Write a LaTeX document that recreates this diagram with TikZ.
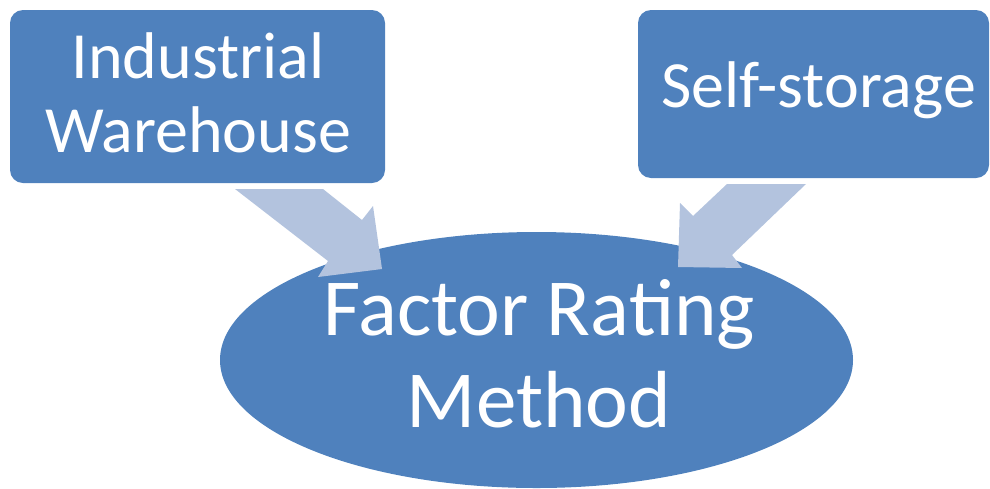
\documentclass[tikz,border=0pt]{standalone}
\usepackage{fontspec}
\setmainfont{Carlito}
\usetikzlibrary{shapes.geometric}
\definecolor{boxblue}{HTML}{4F81BD}
\definecolor{arrowblue}{RGB}{179,195,222}
\begin{document}
\begin{tikzpicture}[x=1pt,y=-1pt,
  box/.style={fill=boxblue,draw=none,rounded corners=13pt,inner sep=0pt},
  oval/.style={ellipse,fill=boxblue,draw=none,inner sep=0pt},
  txt/.style={text=white,align=center,inner sep=0pt},
  blockarrow/.style={fill=arrowblue,draw=none}]
\useasboundingbox (0,0) rectangle (990,488);
% ellipse
\node[oval,minimum width=633pt,minimum height=256pt] (frm) at (536.5,360) {};
% arrows
\fill[blockarrow] (235,189) -- (323,189) -- (362,220) -- (373,206) -- (382,269) -- (318,277) -- (328,261) -- cycle;
\fill[blockarrow] (727,184) -- (806,184) -- (732,255) -- (742,268) -- (678,267) -- (680,203) -- (693,216) -- cycle;
% boxes
\node[box,minimum width=375pt,minimum height=173pt] (iw) at (197.5,96.5) {};
\node[box,minimum width=351pt,minimum height=168pt] (ss) at (813.5,94) {};
% texts
\node[txt,font=\fontsize{66}{74}\selectfont,anchor=base] (iwt) at (198,152) {Industrial\\Warehouse};
\node[txt,font=\fontsize{66}{74}\selectfont,anchor=base] (sst) at (818.5,107) {Self-storage};
\node[txt,font=\fontsize{81}{92}\selectfont,anchor=base] (frmt) at (539,427) {Factor Rating\\Method};
\end{tikzpicture}
\end{document}
